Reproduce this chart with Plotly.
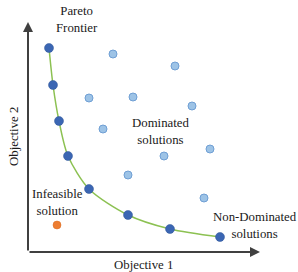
import plotly.graph_objects as go

# Data (arbitrary objective units)
pareto_x = [2.1, 2.5, 3.1, 4.0, 6.1, 10.0, 14.2, 19.2]
pareto_y = [20.4, 16.7, 13.1, 9.6, 6.3, 3.7, 2.3, 1.5]
dominated_x = [8.5, 14.7, 6.1, 10.5, 16.4, 7.5, 13.6, 18.2, 10.0, 17.6]
dominated_y = [19.8, 18.6, 15.4, 15.5, 14.6, 12.3, 9.6, 10.3, 7.7, 5.4]
infeasible_x = [2.9]
infeasible_y = [2.7]

serif = "Liberation Serif, DejaVu Serif, serif"
fig = go.Figure()

fig.add_trace(go.Scatter(x=pareto_x, y=pareto_y, mode="lines",
                         line=dict(color="#8CC152", width=1.5, shape="spline", smoothing=0.8),
                         hoverinfo="skip", showlegend=False))
fig.add_trace(go.Scatter(x=dominated_x, y=dominated_y, mode="markers",
                         marker=dict(size=8, color="#9DC3E6", line=dict(color="#6F9FD4", width=1)),
                         showlegend=False))
fig.add_trace(go.Scatter(x=pareto_x, y=pareto_y, mode="markers",
                         marker=dict(size=9, color="#3B66B3", line=dict(color="#2F5597", width=0.5)),
                         showlegend=False))
fig.add_trace(go.Scatter(x=infeasible_x, y=infeasible_y, mode="markers",
                         marker=dict(size=8, color="#ED7D31", line=dict(color="#D86A20", width=0.5)),
                         showlegend=False))

# axes arrows
axc = "#404040"
fig.add_annotation(x=0, y=23.0, ax=0, ay=0, xref="x", yref="y", axref="x", ayref="y",
                   showarrow=True, arrowhead=2, arrowsize=1, arrowwidth=2, arrowcolor=axc, text="")
fig.add_annotation(x=23.2, y=0, ax=0, ay=0, xref="x", yref="y", axref="x", ayref="y",
                   showarrow=True, arrowhead=2, arrowsize=1, arrowwidth=2, arrowcolor=axc, text="")

font = dict(family=serif, size=12.8, color="#1a1a1a")
labels = [
    (4.9, 23.25, "Pareto<br>Frontier"),
    (13.2, 12.1, "Dominated<br>solutions"),
    (2.9, 5.0, "Infeasible<br>solution"),
    (22.7, 2.7, "Non-Dominated<br>solutions"),
]
for x, y, t in labels:
    fig.add_annotation(x=x, y=y, xref="x", yref="y", text=t, showarrow=False,
                       font=font, align="center")

fig.add_annotation(x=11.5, y=-1.3, xref="x", yref="y", text="Objective 1", showarrow=False, font=font)
fig.add_annotation(x=-1.4, y=11.5, xref="x", yref="y", text="Objective 2", showarrow=False,
                   font=font, textangle=-90)

fig.update_xaxes(visible=False, range=[-2.8, 27.0])
fig.update_yaxes(visible=False, range=[-2.0, 25.2])
fig.update_layout(width=298, height=272, margin=dict(l=0, r=0, t=0, b=0),
                  paper_bgcolor="white", plot_bgcolor="white", showlegend=False)

fig.write_html("out.html", config={"displayModeBar": False},
               post_script="document.body.style.margin='0px';")
